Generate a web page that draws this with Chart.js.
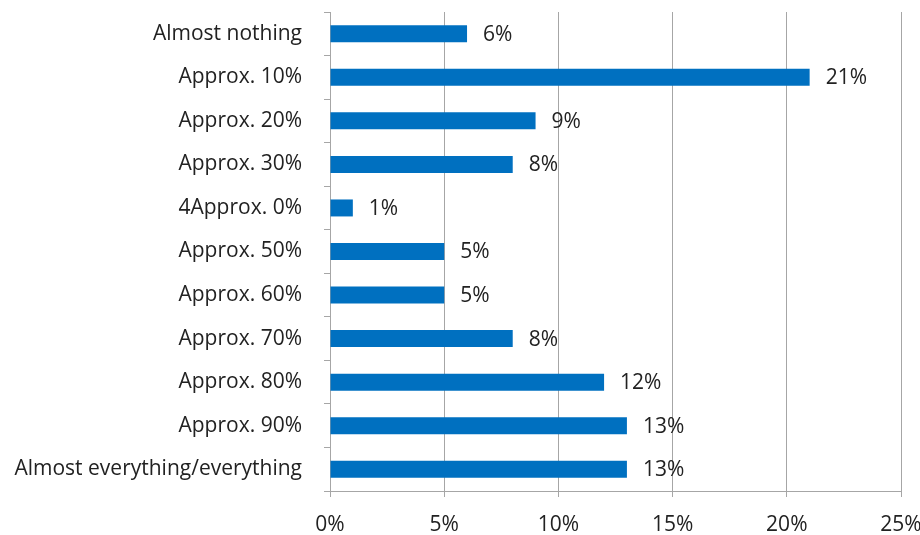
<!DOCTYPE html>
<html>
<head>
<meta charset="utf-8">
<script src="https://cdn.jsdelivr.net/npm/chart.js@4/dist/chart.umd.min.js"></script>
<style>
  html, body { margin: 0; padding: 0; background: #ffffff; }
  #wrap { width: 920px; height: 535px; position: relative; }
</style>
</head>
<body>
<div id="wrap"><canvas id="c" width="920" height="535"></canvas></div>
<script>
// Share of respondents by answer
const categories = [
  'Almost nothing',
  'Approx. 10%',
  'Approx. 20%',
  'Approx. 30%',
  '4Approx. 0%',
  'Approx. 50%',
  'Approx. 60%',
  'Approx. 70%',
  'Approx. 80%',
  'Approx. 90%',
  'Almost everything/everything'
];
const shares = [6, 21, 9, 8, 1, 5, 5, 8, 12, 13, 13];
const xTicks = [0, 5, 10, 15, 20, 25];

const FONT = '"Open Sans", Lato, "DejaVu Sans", sans-serif';
const TEXT = '#222222';
const GRID = '#a6a6a6';

// Writes the percentage next to the end of each bar
const valueLabels = {
  id: 'valueLabels',
  afterDatasetsDraw(chart) {
    const ctx = chart.ctx;
    const meta = chart.getDatasetMeta(0);
    ctx.save();
    ctx.font = '21px ' + FONT;
    ctx.fillStyle = TEXT;
    ctx.textAlign = 'left';
    ctx.textBaseline = 'middle';
    meta.data.forEach((bar, i) => {
      ctx.fillText(shares[i] + '%', bar.x + 16, bar.y + 1);
    });
    ctx.restore();
  }
};

new Chart(document.getElementById('c'), {
  type: 'bar',
  data: {
    labels: categories,
    datasets: [{
      data: shares,
      backgroundColor: '#0070c0',
      borderWidth: 0,
      categoryPercentage: 1,
      barPercentage: 0.39
    }]
  },
  options: {
    indexAxis: 'y',
    responsive: false,
    animation: false,
    layout: { padding: 0 },
    plugins: {
      legend: { display: false },
      tooltip: { enabled: false }
    },
    scales: {
      x: {
        min: 0,
        max: 25,
        afterBuildTicks(scale) {
          scale.ticks = xTicks.map(v => ({ value: v }));
        },
        afterFit(scale) {
          scale.height = 44;
          scale.paddingLeft = 0;
          scale.paddingRight = 19;
        },
        ticks: {
          callback: v => v + '%',
          color: TEXT,
          font: { family: FONT, size: 21 },
          padding: 15,
          maxRotation: 0
        },
        grid: { color: GRID, lineWidth: 1, tickLength: 6 },
        border: { color: GRID, width: 1 }
      },
      y: {
        afterFit(scale) {
          scale.width = 330;
          scale.paddingTop = 12;
          scale.paddingBottom = 0;
        },
        ticks: {
          color: TEXT,
          font: { family: FONT, size: 21 },
          padding: 22
        },
        grid: { color: GRID, lineWidth: 1, drawOnChartArea: false, tickLength: 6, offset: true },
        border: { color: GRID, width: 1 }
      }
    }
  },
  plugins: [valueLabels]
});
</script>
</body>
</html>
